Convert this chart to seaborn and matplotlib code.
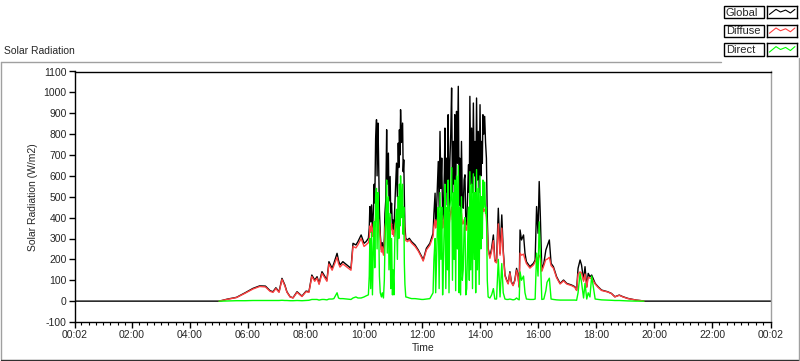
import matplotlib
matplotlib.use("Agg")
import matplotlib.pyplot as plt
from matplotlib.patches import Rectangle
from matplotlib.lines import Line2D
import seaborn as sns

# ---- data (hours of day, W/m2) ----
time_h = [5.00, 5.10, 5.30, 5.60, 5.90, 6.17, 6.40, 6.60, 6.76, 6.86, 6.96, 7.07, 7.17, 7.27, 7.34,
          7.45, 7.55, 7.69, 7.86, 8.00, 8.10, 8.20, 8.30, 8.38, 8.45, 8.55, 8.62, 8.72, 8.79, 8.90,
          8.96, 9.07, 9.12, 9.17, 9.27, 9.41, 9.55, 9.62, 9.72, 9.79, 9.90, 10.00, 10.07,
          10.15, 10.18, 10.20, 10.23, 10.26, 10.29, 10.32, 10.35, 10.37, 10.40, 10.43, 10.45, 10.48,
          10.50, 10.53, 10.56, 10.60, 10.63, 10.67, 10.70, 10.72, 10.75, 10.78, 10.80, 10.84, 10.86,
          10.90, 10.92, 10.95, 10.98, 11.00, 11.03, 11.06, 11.09, 11.12, 11.15, 11.18, 11.20, 11.22,
          11.24, 11.26, 11.29, 11.33, 11.35, 11.37, 11.39, 11.41, 11.44,
          11.50, 11.56, 11.64, 11.76, 11.87, 11.99, 12.04, 12.15, 12.27,
          12.38, 12.41, 12.45, 12.47, 12.50, 12.53, 12.56, 12.59, 12.62, 12.65, 12.68, 12.71, 12.74,
          12.77, 12.79, 12.82, 12.85, 12.88, 12.90, 12.93, 12.96, 12.99, 13.02, 13.05, 13.08, 13.11,
          13.13, 13.16, 13.19, 13.22, 13.25, 13.28, 13.30, 13.33, 13.36, 13.39, 13.42, 13.45, 13.48,
          13.51, 13.54, 13.57, 13.60, 13.63, 13.65, 13.68, 13.71, 13.74, 13.77, 13.80, 13.83, 13.85,
          13.88, 13.91, 13.94, 13.97, 14.00, 14.03, 14.05, 14.08, 14.10, 14.13, 14.16, 14.19, 14.22,
          14.25, 14.28,
          14.34, 14.40, 14.46, 14.51, 14.57, 14.63, 14.69,
          14.75, 14.80, 14.86, 14.92, 14.97, 15.03, 15.08, 15.14, 15.20, 15.26, 15.30, 15.35, 15.38,
          15.43, 15.50, 15.55, 15.60, 15.72, 15.84, 15.90, 15.95, 16.00, 16.04, 16.08, 16.13, 16.20,
          16.27, 16.31, 16.39, 16.45, 16.53, 16.64, 16.76, 16.88, 16.99, 17.16, 17.27, 17.33, 17.38,
          17.45, 17.50, 17.57, 17.62, 17.68, 17.73, 17.79, 17.85, 17.97, 18.07, 18.19, 18.40, 18.53,
          18.65, 18.80, 18.93, 19.10, 19.38, 19.57, 19.65]

global_rad = [0, 3, 10, 18, 40, 61, 73, 72, 50, 45, 64, 45, 109, 77, 45,
              21, 16, 45, 24, 48, 45, 125, 101, 117, 85, 141, 125, 101, 189, 157,
              181, 229, 195, 173, 189, 173, 157, 277, 269, 285, 317, 277, 285,
              301, 350, 453, 380, 461, 330, 421, 560, 470, 780, 869, 600, 853,
              700, 437, 320, 245, 280, 229, 300, 420, 485, 821, 560, 709, 480,
              597, 420, 469, 340, 389, 330, 453, 560, 661, 500, 757, 640, 821,
              700, 917, 760, 853, 620, 677, 500, 357, 300,
              293, 301, 285, 269, 245, 213, 197, 253, 277,
              325, 420, 517, 380, 437, 560, 669, 450, 813, 540, 685, 390, 445,
              620, 829, 460, 685, 520, 893, 430, 669, 800, 1021, 520, 765, 560,
              893, 480, 909, 660, 1029, 460, 685, 400, 765, 480, 445, 580, 605,
              370, 365, 500, 653, 520, 981, 560, 829, 520, 949, 600, 765, 460,
              973, 580, 813, 520, 941, 600, 765, 660, 893, 800, 885, 760, 685,
              400, 253,
              213, 253, 317, 197, 189, 445, 229,
              413, 245, 125, 101, 85, 141, 93, 77, 101, 157, 133, 69, 341,
              293, 317, 229, 189, 165, 181, 197, 453, 325, 573, 405, 149, 181,
              245, 261, 293, 181, 165, 117, 85, 101, 85, 77, 69, 53, 157,
              197, 173, 101, 165, 69, 133, 117, 125, 85, 69, 53, 45, 37,
              21, 29, 21, 13, 5, 2, 0]

diffuse_rad = [0, 3, 9, 17, 38, 58, 70, 68, 47, 42, 60, 42, 104, 73, 43,
               20, 15, 42, 22, 45, 42, 118, 95, 110, 80, 133, 118, 95, 178, 148,
               170, 210, 180, 163, 178, 163, 148, 262, 255, 270, 300, 262, 270,
               280, 300, 360, 330, 370, 310, 350, 380, 360, 400, 400, 380, 400,
               390, 350, 300, 235, 260, 220, 270, 350, 380, 420, 390, 410, 370,
               400, 350, 370, 320, 340, 310, 360, 380, 390, 370, 400, 390, 420,
               400, 440, 410, 420, 400, 400, 370, 320, 290,
               285, 293, 278, 262, 240, 208, 192, 245, 268,
               310, 360, 390, 350, 380, 390, 400, 370, 420, 380, 410, 350, 380,
               400, 430, 370, 400, 380, 440, 360, 400, 430, 450, 390, 420, 390,
               440, 380, 450, 410, 460, 370, 400, 360, 420, 370, 370, 390, 390,
               340, 340, 380, 400, 380, 450, 390, 430, 390, 450, 400, 420, 370,
               460, 400, 430, 390, 450, 400, 420, 410, 450, 430, 440, 430, 400,
               330, 245,
               205, 240, 290, 190, 183, 370, 220,
               350, 230, 120, 97, 82, 135, 89, 74, 97, 148, 126, 66, 230,
               220, 225, 200, 180, 158, 173, 188, 210, 200, 220, 210, 143, 170,
               200, 200, 210, 170, 158, 112, 82, 97, 82, 74, 66, 51, 130,
               140, 135, 95, 130, 66, 115, 110, 110, 82, 66, 51, 44, 36,
               20, 28, 20, 12, 5, 2, 0]

direct_rad = [0, 0, 1, 2, 2, 3, 3, 3, 3, 3, 3, 3, 4, 3, 3,
              2, 2, 3, 2, 3, 4, 8, 8, 8, 5, 8, 8, 6, 10, 10,
              12, 40, 15, 12, 12, 10, 8, 15, 20, 15, 15, 20, 25,
              30, 120, 300, 60, 330, 30, 250, 380, 160, 500, 540, 250, 520,
              420, 120, 40, 20, 40, 15, 100, 260, 400, 580, 230, 500, 150,
              420, 60, 300, 30, 150, 30, 280, 380, 440, 200, 500, 300, 560,
              360, 600, 400, 560, 320, 450, 180, 80, 20,
              18, 15, 12, 12, 10, 8, 8, 10, 12,
              40, 200, 300, 40, 200, 350, 450, 60, 520, 200, 450, 30, 200,
              400, 560, 60, 450, 150, 580, 40, 450, 500, 640, 100, 520, 200,
              580, 50, 600, 250, 650, 40, 450, 30, 500, 100, 150, 350, 400,
              30, 60, 250, 450, 100, 620, 150, 560, 60, 610, 200, 520, 40,
              630, 150, 540, 80, 600, 250, 500, 300, 580, 450, 570, 420, 450,
              100, 20,
              15, 30, 60, 10, 10, 200, 20,
              180, 40, 10, 8, 8, 10, 8, 6, 8, 15, 10, 6, 140,
              100, 120, 40, 10, 8, 8, 10, 230, 120, 380, 220, 8, 10,
              50, 90, 110, 10, 8, 6, 5, 5, 5, 5, 5, 4, 40,
              133, 90, 15, 85, 10, 40, 20, 120, 10, 8, 6, 5, 4,
              3, 3, 2, 1, 0, 0, 0]

series_names = ["Global", "Diffuse", "Direct"]
series_colors = ["#000000", "#ff4040", "#00ff00"]

y_ticks = list(range(-100, 1101, 100))
x_major = [1 / 30] + list(range(2, 24, 2)) + [24 + 1 / 30]
x_labels = ["00:02", "02:00", "04:00", "06:00", "08:00", "10:00", "12:00",
            "14:00", "16:00", "18:00", "20:00", "22:00", "00:02"]

# ---- figure ----
sns.set_style("white")
plt.rcParams["font.family"] = ["Liberation Sans", "DejaVu Sans"]
FS = 7.5
plt.rcParams["font.size"] = FS

W, H = 800, 361
fig = plt.figure(figsize=(W / 100, H / 100), dpi=100)
fig.patch.set_facecolor("white")

def fx(px):
    return px / W

def fy(py):
    return 1 - py / H

ax = fig.add_axes([fx(75), fy(322), fx(771) - fx(75), fy(71.5) - fy(322)])
ax.set_facecolor("white")

g_t = [1 / 30] + time_h + [24 + 1 / 30]
g_v = [0] + global_rad + [0]
sns.lineplot(x=g_t, y=g_v, ax=ax, color=series_colors[0], lw=1, estimator=None, sort=False)
sns.lineplot(x=time_h, y=diffuse_rad, ax=ax, color=series_colors[1], lw=1, estimator=None, sort=False)
sns.lineplot(x=time_h, y=direct_rad, ax=ax, color=series_colors[2], lw=1, estimator=None, sort=False)

ax.set_xlim(1 / 30, 24 + 1 / 30)
ax.set_ylim(-100, 1100)
ax.set_yticks(y_ticks)
ax.set_yticklabels([str(v) for v in y_ticks])
ax.set_xticks(x_major)
ax.set_xticklabels(x_labels)
minor = [m * 0.25 for m in range(1, 97) if (m * 0.25) % 2 != 0]
ax.set_xticks(minor, minor=True)
ax.tick_params(axis="both", which="major", direction="out", length=4, width=1,
               color="black", labelsize=FS, pad=2, left=True, bottom=True)
ax.tick_params(axis="x", which="minor", direction="out", length=2.2, width=0.8,
               color="black", bottom=True)
ax.set_xlabel("Time", fontsize=FS, labelpad=2)
ax.set_ylabel("")
fig.text(fx(33), fy(197), "Solar Radiation (W/m2)", rotation=90, ha="center",
         va="center", fontsize=FS)

for side in ["left", "top", "bottom"]:
    ax.spines[side].set_color("black")
    ax.spines[side].set_linewidth(1)
ax.spines["right"].set_color("#a0a0a0")
ax.spines["right"].set_linewidth(1)

# title
fig.text(fx(4), fy(51), "Solar Radiation", ha="left", va="center", fontsize=FS)

# outer panel frame
fig.add_artist(Line2D([fx(1), fx(721)], [fy(62), fy(62)], color="#a0a0a0", lw=1))
fig.add_artist(Line2D([fx(1), fx(1)], [fy(62), fy(359)], color="#a0a0a0", lw=1))
fig.add_artist(Line2D([fx(1), fx(799)], [fy(359.5), fy(359.5)], color="#303030", lw=1))
fig.add_artist(Line2D([fx(798.5), fx(798.5)], [fy(58), fy(359.5)], color="#a0a0a0", lw=1))

# legend
rows = [(6, 18), (24.5, 37), (43, 56)]
for (top, bot), name, col in zip(rows, series_names, series_colors):
    fig.add_artist(Rectangle((fx(724), fy(bot)), fx(764) - fx(724), fy(top) - fy(bot),
                             facecolor="white", edgecolor="black", lw=1,
                             transform=fig.transFigure))
    fig.text(fx(726), fy((top + bot) / 2 + 0.5), name, ha="left", va="center", fontsize=8)
    lax = fig.add_axes([fx(767), fy(bot), fx(797) - fx(767), fy(top) - fy(bot)])
    lax.set_xlim(0, 1)
    lax.set_ylim(0, 1)
    lax.set_xticks([])
    lax.set_yticks([])
    for s in lax.spines.values():
        s.set_color("black")
        s.set_linewidth(1)
    lax.plot([0.08, 0.3, 0.45, 0.62, 0.78, 0.93], [0.3, 0.72, 0.5, 0.66, 0.42, 0.72],
             color=col, lw=0.8)

fig.savefig("out.png", dpi=100, facecolor="white")
